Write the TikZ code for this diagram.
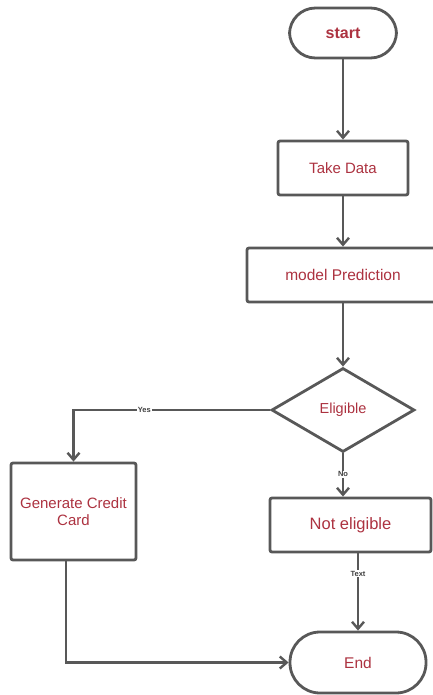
\documentclass[tikz,border=0pt]{standalone}
\usepackage{fontspec}
\setmainfont{Liberation Sans}
\usetikzlibrary{shapes.geometric,arrows.meta}
\definecolor{edgegray}{RGB}{88,88,88}
\definecolor{labelred}{RGB}{172,50,64}
\tikzset{
  x=1pt, y=-1pt,
  flowline/.style={draw=edgegray, line width=2.8pt},
  terminal/.style={flowline, rectangle, rounded corners=26pt, align=center,
    text=labelred, inner sep=0pt},
  procbox/.style={flowline, rectangle, rounded corners=2pt, align=center,
    text=labelred, inner sep=0pt},
  decision/.style={flowline, diamond, inner sep=0pt, text=labelred},
  link/.style={draw=edgegray, line width=2.6pt,
    -{Straight Barb[length=7pt,width=12pt,line width=2.4pt]}},
  tag/.style={fill=white, inner sep=1pt, font=\bfseries\fontsize{7.5}{8}\selectfont,
    text=black!75},
}
\begin{document}
\begin{tikzpicture}
  \useasboundingbox (0,0) rectangle (433,695);
  \begin{scope}
    \clip (0,0) rectangle (433,695);

    \node[terminal, minimum width=107pt, minimum height=50pt,
      font=\bfseries\fontsize{16}{18}\selectfont] (start) at (343,33) {start};
    \node[procbox, minimum width=130pt, minimum height=54pt,
      font=\fontsize{15}{17}\selectfont] (take) at (343,168) {Take Data};
    \node[procbox, minimum width=192pt, minimum height=54pt,
      font=\fontsize{15.5}{17}\selectfont] (pred) at (343,275) {model Prediction};
    \node[decision, minimum width=143pt, minimum height=84pt,
      font=\fontsize{14.5}{17}\selectfont] (elig) at (343,410) {Eligible};
    \node[procbox, minimum width=125pt, minimum height=97pt,
      font=\fontsize{15}{17}\selectfont] (gen) at (73.5,511.5)
      {Generate Credit\\Card};
    \node[procbox, minimum width=161pt, minimum height=54pt,
      font=\fontsize{16.5}{18}\selectfont] (noel) at (350.5,525) {Not eligible};
    \node[terminal, rounded corners=30pt, minimum width=136pt, minimum height=61pt,
      font=\fontsize{15.5}{17}\selectfont] (end) at (358,662.5) {End};

    \draw[link] (start) -- (take);
    \draw[link] (take) -- (pred);
    \draw[link] (pred) -- (elig);
    \draw[link] (elig.west) -- node[tag, pos=0.64] {Yes}
      (elig.west -| gen.north) -- (gen.north);
    \draw[link] (elig.south) -- node[tag, pos=0.48] {No}
      (elig.south |- noel.north);
    \draw[link] (noel.south -| end.north) -- node[tag, pos=0.26] {Text} (end.north);
    \draw[link] ([xshift=-7.5pt]gen.south) |- (end.west);
  \end{scope}
\end{tikzpicture}
\end{document}
